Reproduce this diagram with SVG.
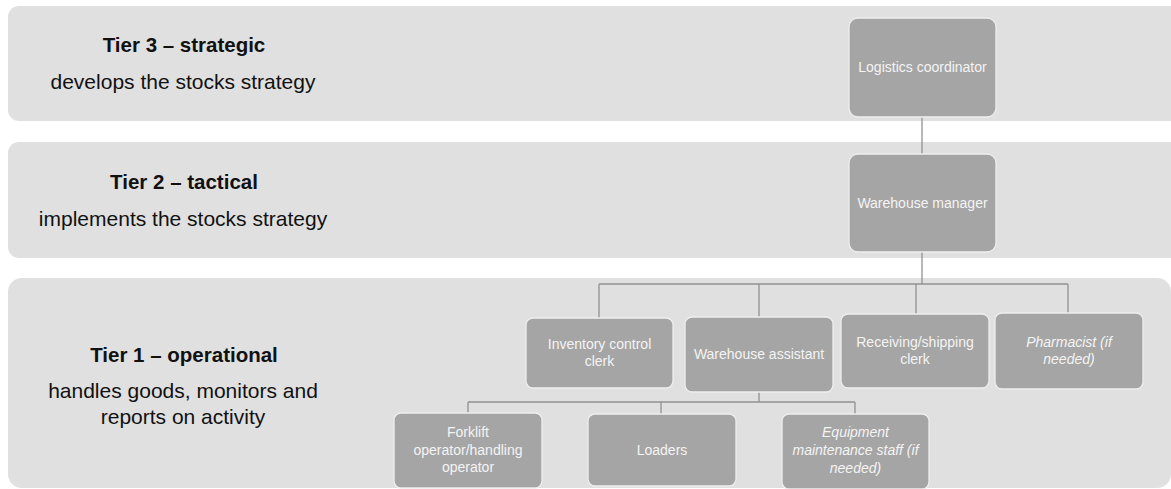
<svg xmlns="http://www.w3.org/2000/svg" width="1171" height="489" viewBox="0 0 1171 489">
<style>
.band{fill:#e0e0e0}
.tt{font-family:"Liberation Sans",Arial,sans-serif;font-size:20.5px;font-weight:bold;fill:#111;text-anchor:middle}
.ts{font-family:"Liberation Sans",Arial,sans-serif;font-size:21px;fill:#111;text-anchor:middle}
.node rect{fill:#a5a5a5;stroke:#eeeeee;stroke-width:1.3}
.node text{font-family:"Liberation Sans",Arial,sans-serif;font-size:14px;fill:#f4f4f4;text-anchor:middle}
.node text.it{font-style:italic}
#connectors path{fill:none;stroke:#929292;stroke-width:1.3}
</style>
<rect width="1171" height="489" fill="#ffffff"/>
<g id="bands">
<rect class="band" x="8" y="6" width="1180" height="115" rx="11"/>
<rect class="band" x="8" y="142" width="1180" height="116" rx="11"/>
<rect class="band" x="8" y="278" width="1163" height="210" rx="14"/>
</g>
<g id="tier-labels">
<text class="tt" x="184" y="52">Tier 3 – strategic</text>
<text class="ts" x="183" y="89">develops the stocks strategy</text>
<text class="tt" x="184" y="189">Tier 2 – tactical</text>
<text class="ts" x="183" y="226">implements the stocks strategy</text>
<text class="tt" x="184" y="362">Tier 1 – operational</text>
<text class="ts" x="183" y="398">handles goods, monitors and</text>
<text class="ts" x="183" y="424">reports on activity</text>
</g>
<g id="connectors">
<path d="M922 117V154"/>
<path d="M922 252V284"/>
<path d="M599 284H1068"/>
<path d="M599 284V318M759 284V317M916 284V314M1068 284V313"/>
<path d="M759 392V402"/>
<path d="M468 402H855"/>
<path d="M468 402V413M661 402V414M855 402V414"/>
</g>
<g id="logistics-coordinator" class="node">
<rect x="849" y="18" width="147" height="99" rx="9"/>
<text x="922.5" y="72">Logistics coordinator</text>
</g>
<g id="warehouse-manager" class="node">
<rect x="849" y="154" width="147" height="98" rx="9"/>
<text x="922.5" y="208">Warehouse manager</text>
</g>
<g id="inventory-control-clerk" class="node">
<rect x="526" y="318" width="147" height="70" rx="7"/>
<text x="599.5" y="349">Inventory control</text>
<text x="599.5" y="366">clerk</text>
</g>
<g id="warehouse-assistant" class="node">
<rect x="685" y="317" width="148" height="75" rx="7"/>
<text x="759" y="359">Warehouse assistant</text>
</g>
<g id="receiving-shipping-clerk" class="node">
<rect x="841" y="314" width="148" height="74" rx="7"/>
<text x="915" y="347">Receiving/shipping</text>
<text x="915" y="364">clerk</text>
</g>
<g id="pharmacist" class="node">
<rect x="995" y="313" width="148" height="76" rx="7"/>
<text class="it" x="1069" y="347">Pharmacist (if</text>
<text class="it" x="1069" y="364">needed)</text>
</g>
<g id="forklift-operator" class="node">
<rect x="394" y="413" width="148" height="75" rx="7"/>
<text x="468" y="437">Forklift</text>
<text x="468" y="455">operator/handling</text>
<text x="468" y="472">operator</text>
</g>
<g id="loaders" class="node">
<rect x="588" y="414" width="148" height="72" rx="7"/>
<text x="662" y="455">Loaders</text>
</g>
<g id="equipment-maintenance-staff" class="node">
<rect x="782" y="414" width="147" height="75" rx="7"/>
<text class="it" x="855.5" y="437">Equipment</text>
<text class="it" x="855.5" y="455">maintenance staff (if</text>
<text class="it" x="855.5" y="473">needed)</text>
</g>
</svg>
